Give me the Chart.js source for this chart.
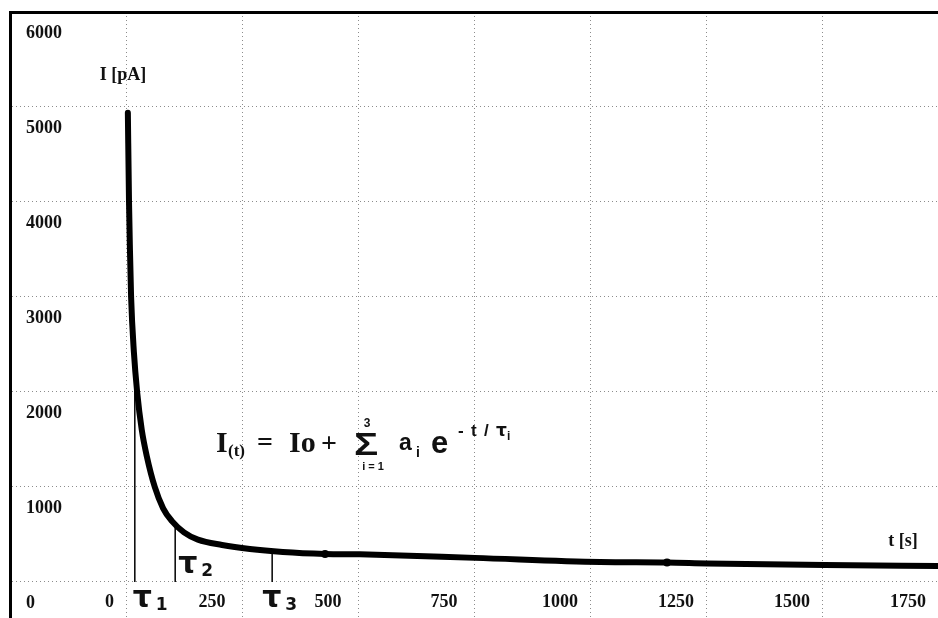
<!DOCTYPE html>
<html>
<head>
<meta charset="utf-8">
<script src="https://cdn.jsdelivr.net/npm/chart.js@4"></script>
<style>
  html, body { margin: 0; padding: 0; background: #fff; overflow: hidden; }
  #wrap { width: 938px; height: 618px; }
</style>
</head>
<body>
<div id="wrap"><canvas id="decay" width="938" height="618"></canvas></div>
<script>
// current decay: t [s] -> I [pA]
const timeValues = [4, 6.5, 8.5, 11, 17, 24, 34, 45, 62, 80, 99, 125, 155, 207, 267, 338, 429, 504, 752, 1022, 1166, 1252, 1506, 1750];
const currentValues = [4940, 4000, 3500, 3000, 2420, 2000, 1600, 1320, 1000, 775, 640, 522, 445, 389, 347, 316, 295, 290, 253, 210, 205, 195, 179, 168];
const dotTimes = [429, 1166]; // the two blobs on the trace

// time constants marked under the curve
const tauNames = ['1', '2', '3'];
const tauTimes = [19, 106, 315];
const tauCurrents = [2250, 610, 326];

const xTicks = [-250, 0, 250, 500, 750, 1000, 1250, 1500, 1750];
const xTickLabels = ['', '\u2007\u2007\u20070', '250', '500', '750', '1000', '1250', '1500', '1750'];
const yTicks = [0, 1000, 2000, 3000, 4000, 5000, 6000];

const ink = '#111';
const gridGrey = 'rgba(0,0,0,0.45)';
const serifBold = { family: '"Liberation Serif", "Times New Roman", serif', size: 18, weight: 'bold' };

let canvas = document.getElementById('decay');
let ctx = canvas.getContext('2d');

let curveData = timeValues.map((t, i) => ({ x: t, y: currentValues[i] }));

let tauSets = tauTimes.map((t, i) => ({
    label: 'tau' + tauNames[i],
    data: [{ x: t, y: 0 }, { x: t, y: tauCurrents[i] }],
    borderColor: '#000',
    borderWidth: 1.5,
    pointRadius: 0,
    order: 2
}));

// labels, formula and axis names drawn on top
const textPlugin = {
    id: 'decayText',
    afterDatasetsDraw(chart) {
        const c = chart.ctx;
        const x = chart.scales.x;
        c.save();
        c.fillStyle = ink;
        c.textBaseline = 'alphabetic';

        c.font = 'bold 18px "Liberation Serif"';
        c.textAlign = 'center';
        c.fillText('I [pA]', 123, 80);
        c.fillText('t [s]', 903, 546);

        // tau labels beside their lines
        const tauOffset = [-2, 3, -10];
        const tauBase = [607, 573, 607];
        c.textAlign = 'left';
        tauTimes.forEach((t, i) => {
            let px = x.getPixelForValue(t) + tauOffset[i];
            c.font = 'bold 30px "DejaVu Sans"';
            c.fillText('τ', px, tauBase[i]);
            c.font = 'bold 17px "DejaVu Sans"';
            c.fillText(tauNames[i], px + 23, tauBase[i] + 3);
        });

        // I(t) = Io + sum a_i e^(-t/tau_i)
        const parts = [
            ['I', 216, 452, 'bold 30px "Liberation Serif"'],
            ['(t)', 228, 456, 'bold 17px "Liberation Serif"'],
            ['=', 257, 451, 'bold 28px "Liberation Serif"'],
            ['Io', 289, 452, 'bold 30px "Liberation Serif"'],
            ['+', 321, 452, 'bold 28px "Liberation Serif"'],
            ['a', 399, 450, 'bold 23px "Liberation Sans"'],
            ['i', 416, 457, 'bold 14px "Liberation Sans"'],
            ['e', 431, 453, 'bold 31px "Liberation Sans"'],
            ['-', 458, 436, 'bold 17px "Liberation Sans"'],
            ['t', 471, 436, 'bold 17px "Liberation Sans"'],
            ['/', 484, 436, 'bold 17px "Liberation Sans"'],
            ['τ', 496, 436, 'bold 17px "DejaVu Sans"'],
            ['i', 507, 440, 'bold 12px "Liberation Sans"']
        ];
        parts.forEach(p => {
            c.font = p[3];
            c.fillText(p[0], p[1], p[2]);
        });

        // wide summation sign
        c.save();
        c.translate(354, 455);
        c.scale(1.3, 1);
        c.font = 'bold 31px "Liberation Sans"';
        c.fillText('Σ', 0, 0);
        c.restore();

        c.textAlign = 'center';
        c.font = 'bold 12px "Liberation Sans"';
        c.fillText('3', 367, 427);
        c.font = 'bold 11px "Liberation Sans"';
        c.fillText('i = 1', 373, 470);
        c.restore();
    }
};

let myChart = new Chart(ctx, {
    type: 'line',
    data: {
        datasets: [{
            label: 'I(t)',
            data: curveData,
            borderColor: '#000',
            backgroundColor: '#000',
            borderWidth: 6,
            borderCapStyle: 'round',
            borderJoinStyle: 'round',
            cubicInterpolationMode: 'monotone',
            pointRadius: c => dotTimes.includes(timeValues[c.dataIndex]) ? 4 : 0,
            pointBorderWidth: 0,
            order: 1
        }].concat(tauSets)
    },
    options: {
        responsive: false,
        devicePixelRatio: 1,
        animation: false,
        layout: { padding: { left: 10, top: 12, right: 0, bottom: 0 } },
        plugins: { legend: { display: false }, tooltip: { enabled: false } },
        scales: {
            x: {
                type: 'linear',
                min: -250,
                max: 1750,
                position: { y: 0 },
                afterBuildTicks: s => { s.ticks = xTicks.map(v => ({ value: v })); },
                afterFit: s => { s.paddingLeft = 0; s.paddingRight = 0; },
                grid: {
                    color: c => c.tick && c.tick.value === 1750 ? 'rgba(0,0,0,0)' : gridGrey,
                    lineWidth: 1,
                    drawTicks: false
                },
                border: { display: false, dash: [1, 3] },
                ticks: {
                    padding: 10,
                    labelOffset: -30,
                    maxRotation: 0,
                    autoSkip: false,
                    color: ink,
                    font: serifBold,
                    callback: v => xTickLabels[xTicks.indexOf(v)]
                }
            },
            y: {
                type: 'linear',
                min: -380,
                max: 6000,
                position: 'left',
                afterBuildTicks: s => { s.ticks = yTicks.map(v => ({ value: v })); },
                afterFit: s => { s.width = 0; s.paddingTop = 0; s.paddingBottom = 0; },
                grid: {
                    color: c => c.tick && c.tick.value === 6000 ? '#000' : gridGrey,
                    lineWidth: c => c.tick && c.tick.value === 6000 ? 3 : 1,
                    drawTicks: false
                },
                border: {
                    display: true,
                    color: '#000',
                    width: 3,
                    dash: c => c.tick && c.tick.value === 6000 ? [] : [1, 3]
                },
                ticks: {
                    mirror: true,
                    padding: 16,
                    labelOffset: 21,
                    color: ink,
                    font: serifBold,
                    callback: v => String(v)
                }
            }
        }
    },
    plugins: [textPlugin]
});
</script>
</body>
</html>
